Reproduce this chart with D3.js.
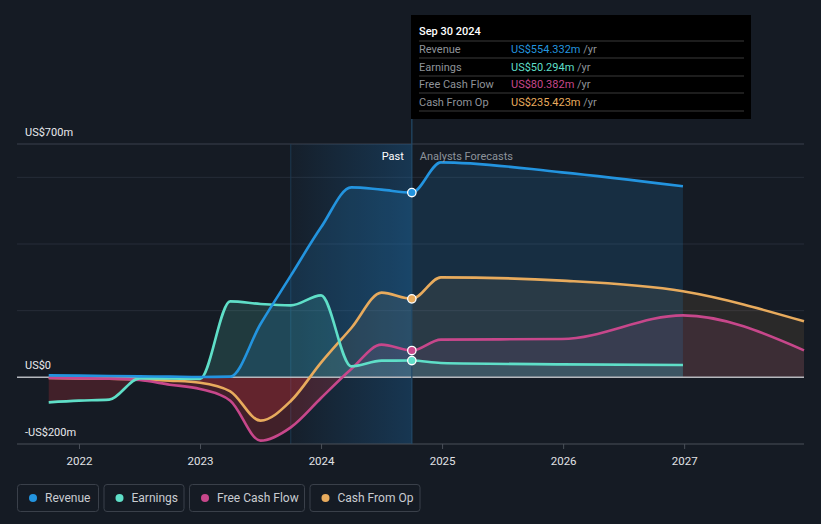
<!DOCTYPE html>
<html><head><meta charset="utf-8">
<script src="https://cdn.jsdelivr.net/npm/d3@7"></script>
<style>
html,body{margin:0;padding:0;background:#151b24;}
svg{display:block;font-family:Roboto, "Noto Sans", sans-serif;}
</style></head>
<body><svg id="c" width="821" height="524"></svg>
<script>
// ---- data (fractional years, values in US$m) ----
const revenueT = [2021.75,2022.0,2022.25,2022.5,2022.75,2023.0,2023.25,2023.5,2023.75,2024.0,2024.25,2024.5,2024.75,2024.99,2025.99,2026.99];
const revenueV = [6,5,4,3,2,1,2,160,305,450,570,563,554.332,645,615,573];
const earningsT = [2021.75,2022.0,2022.25,2022.5,2022.75,2023.0,2023.25,2023.5,2023.75,2024.0,2024.25,2024.5,2024.75,2024.99,2025.99,2026.99];
const earningsV = [-75,-70,-67,-3,-3,-5,228,220,216,246,33,50,50.294,43,39,37];
const fcfT = [2021.75,2022.0,2022.25,2022.5,2022.75,2023.0,2023.25,2023.5,2023.75,2024.0,2024.25,2024.5,2024.75,2024.99,2025.99,2026.99,2027.99];
const fcfV = [-2,-3,-4,-8,-22,-35,-70,-190,-150,-62,25,98,80.382,113,115,186,81];
const cfoT = [2021.75,2022.0,2022.25,2022.5,2022.75,2023.0,2023.25,2023.5,2023.75,2024.0,2024.25,2024.5,2024.75,2024.99,2025.99,2026.99,2027.99];
const cfoV = [-2,-3,-4,-6,-10,-16,-42,-130,-71,44,148,254,235.423,300,290,258,168];
const yearTicks = [2022,2023,2024,2025,2026,2027];
const yTickVals = [-200,0,700];
const yTickLabels = ["-US$200m","US$0","US$700m"];
const gridVals = [200,400,600];
const seriesNames = ["Revenue","Earnings","Free Cash Flow","Cash From Op"];
const tooltipVals = ["US$554.332m","US$50.294m","US$80.382m","US$235.423m"];
const colors = ["#2394df","#5fdfc8","#c7478b","#e8ab5d"];
const nowT = 2024.75;
const pastStartT = 2023.75;

const svg = d3.select("#c");
const x = d3.scaleLinear().domain([2021.488, 2027.99]).range([17, 804]);
const y = d3.scaleLinear().domain([-200, 700]).range([444, 144]);

const defs = svg.append("defs");
const g1 = defs.append("linearGradient").attr("id","pastg").attr("x1","0").attr("x2","1").attr("y1","0").attr("y2","0");
g1.append("stop").attr("offset","0%").attr("stop-color","#1b6aa8").attr("stop-opacity",0.05);
g1.append("stop").attr("offset","100%").attr("stop-color","#1b6aa8").attr("stop-opacity",0.35);
defs.append("clipPath").attr("id","pos").append("rect").attr("x",0).attr("y",0).attr("width",821).attr("height",y(0));
defs.append("clipPath").attr("id","neg").append("rect").attr("x",0).attr("y",y(0)).attr("width",821).attr("height",524-y(0));

// grid
svg.selectAll(".grid").data(gridVals).enter().append("line")
  .attr("x1",17).attr("x2",804).attr("y1",d=>y(d)).attr("y2",d=>y(d))
  .attr("stroke","#262d38").attr("stroke-width",1);
svg.append("line").attr("x1",17).attr("x2",804).attr("y1",y(700)).attr("y2",y(700)).attr("stroke","#3a414c");

// past highlight
svg.append("rect").attr("x",x(pastStartT)).attr("y",y(700)).attr("width",x(nowT)-x(pastStartT)).attr("height",y(-200)-y(700)).attr("fill","url(#pastg)");
svg.append("line").attr("x1",x(pastStartT)).attr("x2",x(pastStartT)).attr("y1",y(700)).attr("y2",y(-200)).attr("stroke","#1d3a52").attr("stroke-width",1);

const series = [
  {t:revenueT, v:revenueV, c:colors[0], fo:0.16},
  {t:earningsT, v:earningsV, c:colors[1], fo:0.16},
  {t:fcfT, v:fcfV, c:colors[2], fo:0.12},
  {t:cfoT, v:cfoV, c:colors[3], fo:0.1},
];
const pts = s => s.t.map((t,i)=>[t,s.v[i]]);
const area = d3.area().x(d=>x(d[0])).y0(y(0)).y1(d=>y(d[1])).curve(d3.curveMonotoneX);
const line = d3.line().x(d=>x(d[0])).y(d=>y(d[1])).curve(d3.curveMonotoneX);

// areas: positive part in series colour, negative part red
[3,2,1,0].forEach(i=>{
  const s = series[i];
  svg.append("path").attr("d",area(pts(s))).attr("clip-path","url(#pos)").attr("fill", s.c).attr("fill-opacity", s.fo);
  svg.append("path").attr("d",area(pts(s))).attr("clip-path","url(#neg)").attr("fill", "#e0303a").attr("fill-opacity", 0.22);
});
// zero line
svg.append("line").attr("x1",17).attr("x2",804).attr("y1",y(0)).attr("y2",y(0)).attr("stroke","#b5b8bd").attr("stroke-width",1.5);
// lines
[3,2,1,0].forEach(i=>{
  const s = series[i];
  svg.append("path").attr("d",line(pts(s))).attr("fill","none").attr("stroke",s.c).attr("stroke-width",2.6);
});

// bottom axis
const xa = svg.append("g").attr("transform",`translate(0,${y(-200)})`)
  .call(d3.axisBottom(x).tickValues(yearTicks).tickFormat(d3.format("d")).tickSize(5).tickPadding(8));
xa.select(".domain").attr("stroke","#4a5059").attr("d","M17,0H804");
xa.selectAll(".tick line").attr("stroke","#4a5059");
xa.selectAll(".tick text").attr("fill","#e0e2e5").attr("font-size",11.5).attr("font-family","Roboto");

// hover line
svg.append("line").attr("x1",x(nowT)).attr("x2",x(nowT)).attr("y1",15).attr("y2",y(-200)).attr("stroke","#234a68").attr("stroke-width",1.2);

// y labels
svg.selectAll(".yl").data(yTickVals).enter().append("text")
  .attr("x",25).attr("y",d=>y(d)-8).text((d,i)=>yTickLabels[i])
  .attr("fill","#e8eaed").attr("font-size",11);

// Past / forecasts labels
svg.append("text").attr("x",x(nowT)-8).attr("y",160).attr("text-anchor","end").attr("fill","#ffffff").attr("font-size",11).text("Past");
svg.append("text").attr("x",x(nowT)+8).attr("y",160).attr("fill","#8d939b").attr("font-size",11).text("Analysts Forecasts");

// dots
series.forEach((s,i)=>{
  const k = s.t.indexOf(nowT);
  svg.append("circle").attr("cx",x(nowT)).attr("cy",y(s.v[k])).attr("r",4.2)
    .attr("fill",s.c).attr("stroke","#ffffff").attr("stroke-width",1.3);
});

// tooltip
const tt = svg.append("g");
tt.append("rect").attr("x",411).attr("y",15).attr("width",340).attr("height",104).attr("fill","#000000");
tt.append("text").attr("x",419).attr("y",35).attr("fill","#ffffff").attr("font-size",11).attr("font-weight",500).text("Sep 30 2024");
[41,58,76,93,111].forEach(yy=>tt.append("line").attr("x1",419).attr("x2",744).attr("y1",yy).attr("y2",yy).attr("stroke","#3a3a3a"));
seriesNames.forEach((n,i)=>{
  const yy = 53 + i*17.5;
  tt.append("text").attr("x",419).attr("y",yy).attr("fill","#8f9399").attr("font-size",11).text(n);
  const t = tt.append("text").attr("x",511).attr("y",yy).attr("font-size",11);
  t.append("tspan").attr("fill",colors[i]).text(tooltipVals[i]);
  t.append("tspan").attr("fill","#8f9399").text(" /yr");
});

// legend
const legW = [81,80,115,110];
let lx = 17;
seriesNames.forEach((n,i)=>{
  const lg = svg.append("g").attr("transform",`translate(${lx},484)`);
  lg.append("rect").attr("x",0.5).attr("y",0.5).attr("width",legW[i]).attr("height",27).attr("rx",3)
    .attr("fill","none").attr("stroke","#3a404a");
  lg.append("circle").attr("cx",16).attr("cy",14).attr("r",4).attr("fill",colors[i]);
  lg.append("text").attr("x",28).attr("y",18).attr("fill","#c9ccd1").attr("font-size",12).text(n);
  lx += legW[i] + 5.5;
});
</script></body></html>
